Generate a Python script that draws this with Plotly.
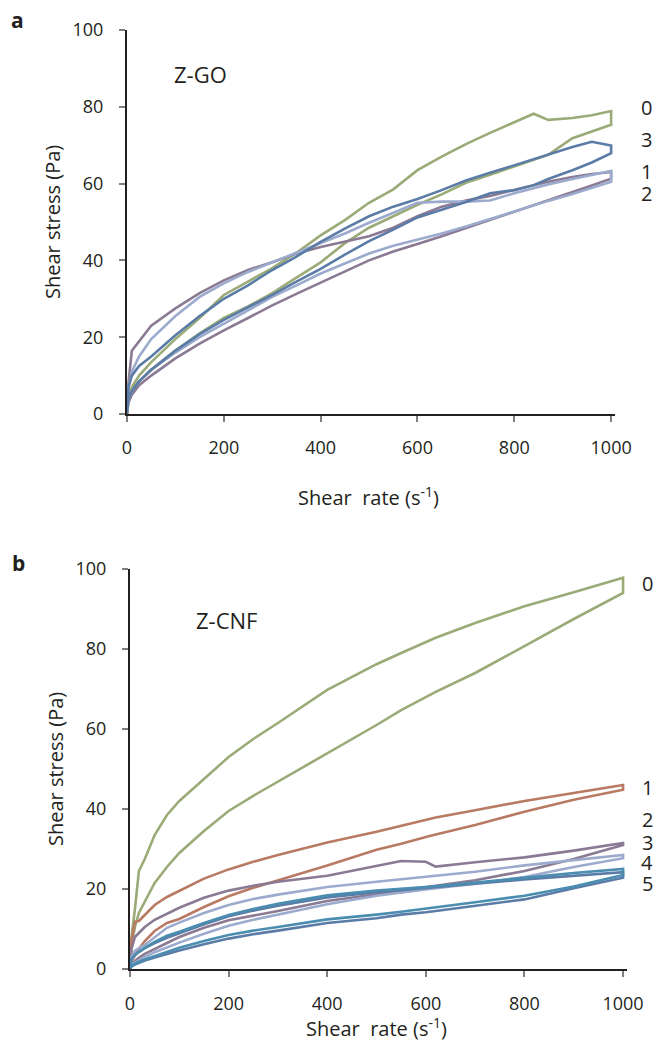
import plotly.graph_objects as go

W, H = 654, 1043

# ---------------- Panel a: Z-GO hysteresis loops ----------------
GO_RATE = [0, 3, 10, 25, 50, 100, 150, 200, 250, 300, 350, 400, 450, 500,
           550, 600, 650, 700, 750, 800, 840, 870, 920, 960, 1000]

GO_0_UP = [0, 4, 7, 10, 13.5, 19.5, 25, 31, 34.5, 38, 42, 46.5, 50.5, 55,
           58.5, 63.5, 67, 70.3, 73.2, 76, 78.2, 76.6, 77.1, 77.8, 78.9]
GO_0_DOWN = [0, 4, 6, 8.5, 11.5, 16.5, 21, 25, 28, 31.5, 35.5, 39.5, 44.5, 48.5,
             51.5, 54.5, 57.2, 60.2, 62.3, 64.3, 66.2, 67.5, 71.8, 73.5, 75.3]

GO_1_UP = [0, 8, 16.5, 19, 23, 27.5, 31.5, 34.8, 37.5, 39.5, 41.8, 43.5, 45, 46.3,
           48.5, 51.5, 54, 55.6, 56.8, 58.4, 59.5, 60.5, 61.7, 62.5, 63]
GO_1_DOWN = [0, 3, 5, 7.5, 10, 14.5, 18.3, 21.8, 25, 28.3, 31.3, 34.2, 37.2, 40,
             42.3, 44.3, 46.3, 48.3, 50.5, 52.5, 54.2, 55.5, 57.8, 59.5, 61.3]

GO_2_UP = [0, 7, 11, 15, 19.5, 25.5, 30.5, 34, 37, 39.5, 42, 44.3, 47, 49.8,
           52.5, 55, 55.3, 55.3, 55.6, 57.5, 58.8, 59.8, 61.2, 62.2, 63.3]
GO_2_DOWN = [0, 4, 6, 8.5, 11.5, 16, 20, 23.6, 27, 30.5, 33.5, 36.6, 39.2, 41.8,
             43.8, 45.3, 47, 48.8, 50.8, 52.8, 54.3, 55.5, 57.3, 58.8, 60.5]

GO_3_UP = [0, 7, 10, 12.5, 15, 20.5, 25.5, 30, 33.5, 37.5, 41, 44.8, 48.3, 51.5,
           54, 56, 58.3, 60.8, 62.8, 64.8, 66.5, 67.5, 69.5, 70.9, 69.9]
GO_3_DOWN = [0, 4, 6, 8.5, 11.5, 16.5, 20.8, 24.5, 27.8, 31, 34.5, 37.8, 41.5, 45,
             48, 51.2, 53.2, 55.2, 57.5, 58.3, 59.6, 61.2, 63.5, 65.5, 67.9]

# ---------------- Panel b: Z-CNF hysteresis loops ----------------
CNF_RATE = [0, 3, 10, 18, 30, 50, 75, 100, 150, 200, 250, 300, 400, 500,
            550, 600, 620, 700, 800, 900, 1000]

CNF_0_UP = [0, 8, 15, 24.5, 27.5, 33.5, 38.5, 42, 47.5, 53, 57.5, 61.5, 69.8, 76.2,
            79, 81.8, 82.8, 86.5, 90.7, 94.2, 97.8]
CNF_0_DOWN = [0, 6, 10.5, 14, 17, 21.5, 25.5, 29, 34.5, 39.5, 43.3, 47, 54, 61,
              64.7, 68, 69.3, 74, 80.7, 87.5, 94]

CNF_1_UP = [0, 7, 11.8, 12, 13.5, 16, 18, 19.6, 22.6, 24.9, 26.8, 28.5, 31.6, 34.3,
            35.8, 37.3, 37.9, 39.7, 42, 44, 46]
CNF_1_DOWN = [0, 2, 3.5, 5, 7, 9.5, 11.5, 12.5, 15.5, 18.2, 20.3, 22.2, 25.9, 29.8,
              31.3, 33, 33.6, 36, 39.3, 42.3, 44.8]

CNF_2_UP = [0, 5, 8, 9, 10.5, 12.3, 13.9, 15.3, 17.8, 19.6, 20.8, 21.8, 23.3, 25.8,
            27, 26.8, 25.6, 26.7, 27.9, 29.6, 31.5]
CNF_2_DOWN = [0, 1, 2, 2.8, 3.8, 5, 6.5, 8, 10.3, 12.2, 13.4, 14.5, 17, 18.7,
              19.6, 20.5, 20.8, 22.2, 24.5, 27.5, 31]

CNF_3_UP = [0, 3, 4.5, 5.2, 6, 8, 10.3, 11.6, 14, 16, 17.5, 18.6, 20.5, 21.8,
            22.4, 23.1, 23.3, 24.3, 25.9, 27.2, 28.5]
CNF_3_DOWN = [0, 1, 1.6, 2.2, 3, 4.2, 5.4, 6.6, 8.8, 10.8, 12.3, 13.6, 16.2, 18.3,
              19, 19.9, 20.2, 21.3, 23, 25.5, 27.7]

CNF_4_UP = [0, 2.5, 3.5, 4.3, 5.2, 6.5, 7.8, 9, 11.2, 13.2, 14.6, 15.8, 17.9, 19.2,
            19.7, 20.2, 20.4, 21.3, 22.4, 23.3, 24.2]
CNF_4_DOWN = [0, 0.6, 1.1, 1.6, 2.1, 2.9, 3.8, 4.6, 6.2, 7.6, 8.7, 9.6, 11.5, 12.7,
              13.6, 14.2, 14.5, 15.7, 17.4, 20.2, 22.8]

CNF_5_UP = [0, 2.5, 3.5, 4.3, 5.3, 6.8, 8.3, 9.3, 11.5, 13.5, 15, 16.3, 18.4, 19.6,
            20, 20.5, 20.7, 21.6, 22.8, 24, 25]
CNF_5_DOWN = [0, 0.8, 1.3, 1.8, 2.4, 3.3, 4.3, 5.3, 7, 8.5, 9.6, 10.5, 12.4, 13.6,
              14.3, 15, 15.4, 16.7, 18.3, 20.6, 23.5]

X_TICKS = [0, 200, 400, 600, 800, 1000]
Y_TICKS = [0, 20, 40, 60, 80, 100]

GREEN = "#9bab78"
MAUVE = "#8a7a93"
LIGHT = "#9cabcd"
STEEL = "#5a7ca6"
RED = "#b97a64"
TEAL = "#4a8db1"

FONT = "Open Sans"
INK = "#231f20"


def loop(rate, up, down):
    """Close a hysteresis loop: ramp up along `up`, come back along `down`."""
    return list(rate) + list(rate)[::-1], list(up) + list(down)[::-1]


def px_x(p):
    return p / W


def px_y(p):
    return 1 - p / H


fig = go.Figure()

panel_a = [
    ("0", GO_0_UP, GO_0_DOWN, GREEN),
    ("1", GO_1_UP, GO_1_DOWN, MAUVE),
    ("2", GO_2_UP, GO_2_DOWN, LIGHT),
    ("3", GO_3_UP, GO_3_DOWN, STEEL),
]
for name, up, down, color in panel_a:
    xs, ys = loop(GO_RATE, up, down)
    fig.add_trace(go.Scatter(x=xs, y=ys, mode="lines", name=name,
                             line=dict(color=color, width=2.6),
                             xaxis="x", yaxis="y", showlegend=False))

panel_b = [
    ("0", CNF_0_UP, CNF_0_DOWN, GREEN),
    ("1", CNF_1_UP, CNF_1_DOWN, RED),
    ("2", CNF_2_UP, CNF_2_DOWN, MAUVE),
    ("3", CNF_3_UP, CNF_3_DOWN, LIGHT),
    ("4", CNF_4_UP, CNF_4_DOWN, STEEL),
    ("5", CNF_5_UP, CNF_5_DOWN, TEAL),
]
for name, up, down, color in panel_b:
    xs, ys = loop(CNF_RATE, up, down)
    fig.add_trace(go.Scatter(x=xs, y=ys, mode="lines", name=name,
                             line=dict(color=color, width=2.6),
                             xaxis="x2", yaxis="y2", showlegend=False))

axis_common = dict(
    showline=True, linecolor=INK, linewidth=2,
    ticks="outside", ticklen=6, tickwidth=1.5, tickcolor="#7f7f7f",
    showgrid=False, zeroline=False, automargin=False,
    tickfont=dict(family=FONT, size=18, color=INK),
)

fig.update_layout(
    width=W, height=H,
    margin=dict(l=0, r=0, t=0, b=0),
    paper_bgcolor="white", plot_bgcolor="white",
    xaxis=dict(axis_common, domain=[px_x(127), px_x(615)], range=[0, 1008],
               tickvals=X_TICKS, anchor="y", ticklabelstandoff=10),
    yaxis=dict(axis_common, domain=[px_y(414), px_y(30)], range=[0, 100],
               tickvals=Y_TICKS, anchor="x", ticklabelstandoff=12),
    xaxis2=dict(axis_common, domain=[px_x(130), px_x(627)], range=[0, 1008],
                tickvals=X_TICKS, anchor="y2", ticklabelstandoff=11),
    yaxis2=dict(axis_common, domain=[px_y(969), px_y(569)], range=[0, 100],
                tickvals=Y_TICKS, anchor="x2", ticklabelstandoff=12),
)


def note(text, x, y, size, bold=False, angle=0):
    fig.add_annotation(
        text=f"<b>{text}</b>" if bold else text,
        x=px_x(x), y=px_y(y), xref="paper", yref="paper",
        showarrow=False, textangle=angle,
        xanchor="center", yanchor="middle",
        font=dict(family=FONT, size=size, color=INK),
    )


# panel letters and sample names
note("a", 17, 20, 21, bold=True)
note("b", 18, 563, 21, bold=True)
note("Z-GO", 200, 74, 22)
note("Z-CNF", 226, 620, 22)

# axis titles
note("Shear stress (Pa)", 52, 222, 20, angle=-90)
note("Shear  rate (s<sup>-1</sup>)", 368, 496, 20)
note("Shear stress (Pa)", 55, 769, 20, angle=-90)
note("Shear  rate (s<sup>-1</sup>)", 376, 1027, 20)

# curve labels at the right edge
for txt, y in [("0", 107), ("3", 139), ("1", 171), ("2", 193)]:
    note(txt, 646, y, 20)
for txt, y in [("0", 583), ("1", 787), ("2", 819), ("3", 842), ("4", 862), ("5", 883)]:
    note(txt, 647, y, 20)

fig.write_html("out.html")
